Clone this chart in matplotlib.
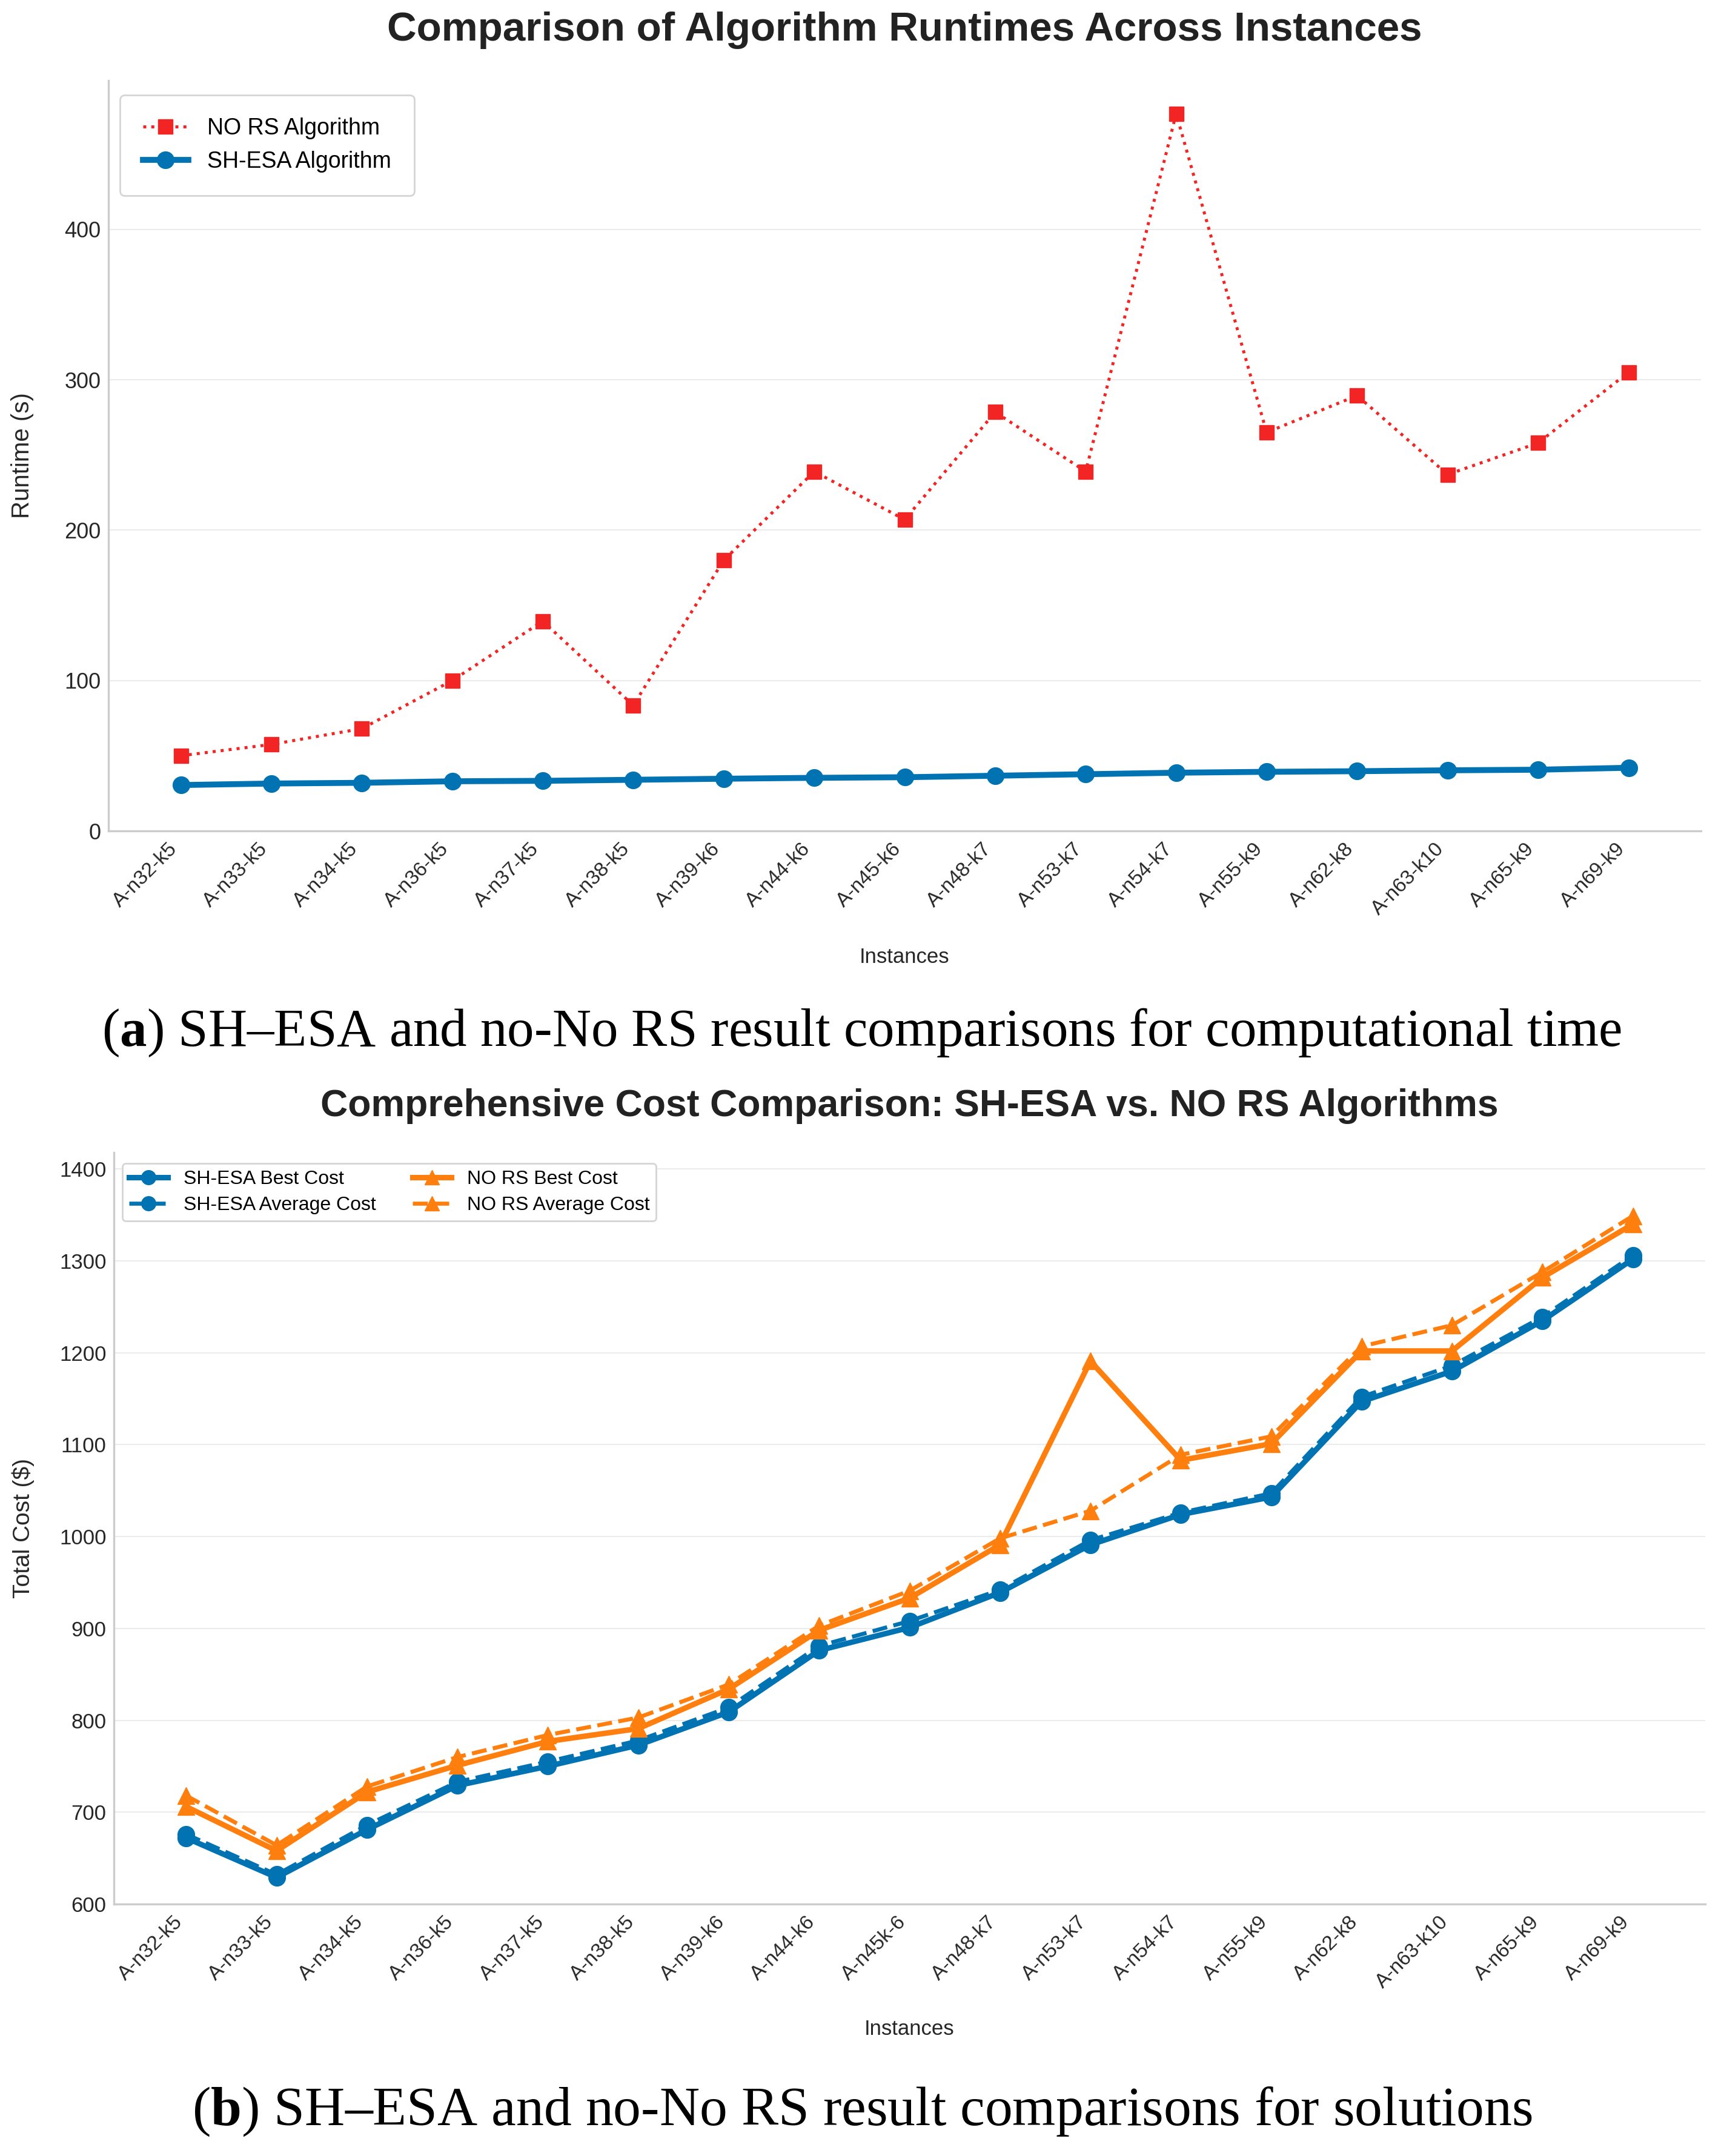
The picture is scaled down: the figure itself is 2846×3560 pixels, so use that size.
import numpy as np
import matplotlib.pyplot as plt

plt.rcParams['font.family'] = ['Liberation Sans', 'DejaVu Sans']
plt.rcParams['mathtext.fontset'] = 'custom'
plt.rcParams['mathtext.rm'] = 'Liberation Serif'
plt.rcParams['mathtext.bf'] = 'Liberation Serif:bold'

# data
instances_a = ['A-n32-k5', 'A-n33-k5', 'A-n34-k5', 'A-n36-k5', 'A-n37-k5', 'A-n38-k5',
               'A-n39-k6', 'A-n44-k6', 'A-n45-k6', 'A-n48-k7', 'A-n53-k7', 'A-n54-k7',
               'A-n55-k9', 'A-n62-k8', 'A-n63-k10', 'A-n65-k9', 'A-n69-k9']
instances_b = ['A-n32-k5', 'A-n33-k5', 'A-n34-k5', 'A-n36-k5', 'A-n37-k5', 'A-n38-k5',
               'A-n39-k6', 'A-n44-k6', 'A-n45k-6', 'A-n48-k7', 'A-n53-k7', 'A-n54-k7',
               'A-n55-k9', 'A-n62-k8', 'A-n63-k10', 'A-n65-k9', 'A-n69-k9']

nors_runtime = [50, 57.5, 68, 100, 139.5, 83.5, 180, 239, 207, 278.5, 239, 477,
                265, 289.5, 237, 258, 305]
shesa_runtime = [30.5, 31.5, 32, 33, 33.3, 34, 34.7, 35.3, 35.7, 36.7, 37.7, 38.7,
                 39.3, 39.7, 40.3, 40.7, 42]

shesa_best = [672, 629, 681, 729, 750, 773, 809, 876, 901, 939, 991, 1024,
              1043, 1147, 1180, 1235, 1302]
shesa_avg = [676, 632, 686, 733, 755, 778, 814, 881, 908, 942, 996, 1026,
             1047, 1152, 1186, 1239, 1306]
nors_best = [706, 658, 722, 751, 777, 791, 834, 898, 933, 991, 1191, 1083,
             1101, 1202, 1202, 1282, 1340]
nors_avg = [718, 664, 728, 760, 784, 803, 839, 903, 941, 998, 1028, 1089,
            1109, 1207, 1230, 1288, 1349]

W, H = 2846, 3560
BLUE = '#0173b2'
RED = '#f22424'
ORANGE = '#ff7f0e'
TXT = '#262626'

fig = plt.figure(figsize=(W / 100, H / 100), dpi=100)


def style_axes(ax, xfs, yfs):
    for s in ['top', 'right']:
        ax.spines[s].set_visible(False)
    for s in ['left', 'bottom']:
        ax.spines[s].set_color('#cccccc')
        ax.spines[s].set_linewidth(2.4)
    ax.grid(axis='y', color='#ebebeb', linewidth=1.5)
    ax.set_axisbelow(True)
    ax.tick_params(length=0, labelcolor=TXT)
    ax.tick_params(axis='y', pad=9, labelsize=yfs)
    ax.tick_params(axis='x', pad=10, labelsize=xfs)


# (a) runtimes
ax1 = fig.add_axes([179 / W, 1 - 1372 / H, (2808 - 179) / W, (1372 - 133) / H])
x = np.arange(len(instances_a))
ax1.plot(x, nors_runtime, linestyle=':', color=RED, linewidth=3.6, marker='s',
         markersize=17, label='NO RS Algorithm')
ax1.plot(x, shesa_runtime, linestyle='-', color=BLUE, linewidth=7, marker='o',
         markersize=20, label='SH-ESA Algorithm')
ax1.set_xlim(-0.8, len(x) - 0.2)
ax1.set_ylim(0, 499)
ax1.set_yticks([0, 100, 200, 300, 400])
ax1.set_xticks(x)
ax1.set_xticklabels(instances_a, rotation=45, ha='right')
style_axes(ax1, 24, 26)
ax1.set_ylabel('Runtime (s)', fontsize=29, color=TXT)
ax1.yaxis.set_label_coords((56 - 179) / 2629, 0.5)
ax1.set_xlabel('Instances', fontsize=25, color=TXT)
ax1.xaxis.set_label_coords(0.5, (1372 - 1564) / 1239)
leg = ax1.legend(loc='upper left', bbox_to_anchor=(198 / W, 1 - 157 / H),
                 bbox_transform=fig.transFigure, borderaxespad=0, fontsize=27,
                 borderpad=1.0, handlelength=2.0, handletextpad=0.85,
                 fancybox=True, framealpha=1, edgecolor='#d5d5d5')
leg.get_frame().set_linewidth(2)
fig.text(1493 / W, 1 - 50 / H, 'Comparison of Algorithm Runtimes Across Instances',
         ha='center', va='center', fontsize=48.5, fontweight='bold', color='#222222')

# (b) costs
ax2 = fig.add_axes([188 / W, 1 - 3144 / H, (2815 - 188) / W, (3144 - 1903) / H])
x = np.arange(len(instances_b))
ax2.plot(x, shesa_best, linestyle='-', color=BLUE, linewidth=6.5, marker='o',
         markersize=20, label='SH-ESA Best Cost')
ax2.plot(x, shesa_avg, linestyle='--', color=BLUE, linewidth=4.8, marker='o',
         markersize=20, label='SH-ESA Average Cost')
ax2.plot(x, nors_best, linestyle='-', color=ORANGE, linewidth=6.5, marker='^',
         markersize=20, label='NO RS Best Cost')
ax2.plot(x, nors_avg, linestyle='--', color=ORANGE, linewidth=4.8, marker='^',
         markersize=20, label='NO RS Average Cost')
ax2.set_xlim(-0.8, len(x) - 0.2)
ax2.set_ylim(600, 1418)
ax2.set_yticks(np.arange(600, 1401, 100))
ax2.set_xticks(x)
ax2.set_xticklabels(instances_b, rotation=45, ha='right')
style_axes(ax2, 24, 25)
ax2.set_ylabel('Total Cost ($)', fontsize=28, color=TXT)
ax2.yaxis.set_label_coords((57 - 188) / 2627, 0.5)
ax2.set_xlabel('Instances', fontsize=25, color=TXT)
ax2.xaxis.set_label_coords(0.5, (3144 - 3334) / 1241)
leg2 = ax2.legend(loc='upper left', bbox_to_anchor=(202 / W, 1 - 1921 / H),
                  bbox_transform=fig.transFigure, borderaxespad=0, fontsize=23,
                  ncol=2, borderpad=0.35, labelspacing=0.4, handlelength=2.0,
                  handletextpad=0.8, columnspacing=1.9, markerscale=0.85,
                  fancybox=True, framealpha=1, edgecolor='#d5d5d5')
leg2.get_frame().set_linewidth(2)
fig.text(1501 / W, 1 - 1826 / H,
         'Comprehensive Cost Comparison: SH-ESA vs. NO RS Algorithms',
         ha='center', va='center', fontsize=45, fontweight='bold', color='#222222')

# captions
fig.text(0.5, 1 - 1727 / H,
         r'($\mathbf{a}$) SH–ESA and no-No RS result comparisons for computational time',
         ha='center', va='baseline', fontsize=64, family='Liberation Serif', color='black')
fig.text(0.5, 1 - 3509 / H,
         r'($\mathbf{b}$) SH–ESA and no-No RS result comparisons for solutions',
         ha='center', va='baseline', fontsize=66, family='Liberation Serif', color='black')

fig.savefig('out.png', dpi=100)
